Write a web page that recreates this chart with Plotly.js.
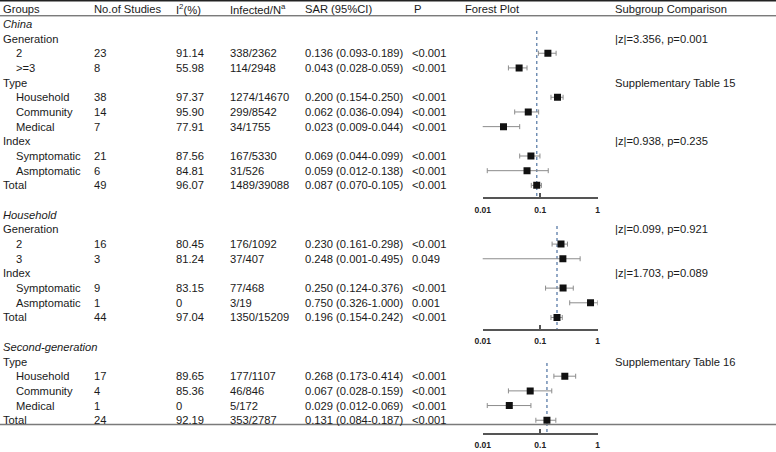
<!DOCTYPE html>
<html><head><meta charset="utf-8">
<script src="https://cdn.plot.ly/plotly-3.0.1.min.js"></script>
<style>html,body{margin:0;padding:0;background:#fff}#chart{width:776px;height:452px}</style>
</head><body><div id="chart"></div>
<script>
// ---------------- DATA ----------------
const headers = ['Groups','No.of Studies','I<sup>2</sup>(%)','Infected/N<sup>a</sup>','SAR (95%CI)','P','Forest Plot','Subgroup Comparison'];
const sectionTitles = ['China','Household','Second-generation'];
const groups = ['China','Generation','2','>=3','Type','Household','Community','Medical','Index','Symptomatic','Asmptomatic','Total','',
                'Household','Generation','2','3','Index','Symptomatic','Asmptomatic','Total','',
                'Second-generation','Type','Household','Community','Medical','Total'];
// 0 = section title, 1 = subgroup heading / total, 2 = indented item
const level = [0,1,2,2,1,2,2,2,1,2,2,1,-1, 0,1,2,2,1,2,2,1,-1, 0,1,2,2,2,1];
// which forest plot (section) each row belongs to
const sectionOf = [0,0,0,0,0,0,0,0,0,0,0,0,-1, 1,1,1,1,1,1,1,1,-1, 2,2,2,2,2,2];
const studies = [null,null,23,8,null,38,14,7,null,21,6,49,null, null,null,16,3,null,9,1,44,null, null,null,17,4,1,24];
const i2 = [null,null,91.14,55.98,null,97.37,95.90,77.91,null,87.56,84.81,96.07,null, null,null,80.45,81.24,null,83.15,0,97.04,null, null,null,89.65,85.36,0,92.19];
const infected = [null,null,338,114,null,1274,299,34,null,167,31,1489,null, null,null,176,37,null,77,3,1350,null, null,null,177,46,5,353];
const totalN = [null,null,2362,2948,null,14670,8542,1755,null,5330,526,39088,null, null,null,1092,407,null,468,19,15209,null, null,null,1107,846,172,2787];
const sar = [null,null,0.136,0.043,null,0.200,0.062,0.023,null,0.069,0.059,0.087,null, null,null,0.230,0.248,null,0.250,0.750,0.196,null, null,null,0.268,0.067,0.029,0.131];
const sarLo = [null,null,0.093,0.028,null,0.154,0.036,0.009,null,0.044,0.012,0.070,null, null,null,0.161,0.001,null,0.124,0.326,0.154,null, null,null,0.173,0.028,0.012,0.084];
const sarHi = [null,null,0.189,0.059,null,0.250,0.094,0.044,null,0.099,0.138,0.105,null, null,null,0.298,0.495,null,0.376,1.000,0.242,null, null,null,0.414,0.159,0.069,0.187];
const pval = [null,null,'<0.001','<0.001',null,'<0.001','<0.001','<0.001',null,'<0.001','<0.001','<0.001',null, null,null,'<0.001','0.049',null,'<0.001','0.001','<0.001',null, null,null,'<0.001','<0.001','<0.001','<0.001'];
const comparison = ['','|z|=3.356, p=0.001','','','Supplementary Table 15','','','','|z|=0.938, p=0.235','','','','',
                    '','|z|=0.099, p=0.921','','','|z|=1.703, p=0.089','','','','',
                    '','Supplementary Table 16','','','',''];
const tickVals = [0.01,0.1,1];
const tickLabels = ['0.01','0.1','1'];

// ---------------- LAYOUT CONSTANTS ----------------
const W = 776, H = 452;
const FONT = '"Liberation Sans", Arial, sans-serif';
const FS = 11.2;
const ROW0 = 9.2, ROWH = 14.68;          // pixel centre of row 0 and row pitch
const yRange = [(H - ROW0) / ROWH, -ROW0 / ROWH];
const colX = {groups: 2, indent: 15, studies: 93, i2: 175, infected: 229, sar: 304, p: 411, pHead: 413, forest: 464, comp: 614};
const forestDomain = [482.7 / W, 597.7 / W];
const axisPx = [198.3, 329.5, 434];      // pixel rows of the three forest axes
const dashStartPx = [31, 226, 363];
const pxToRow = p => (p - ROW0) / ROWH;

// ---------------- BUILD ----------------
const ann = [];
function txt(xpx, row, text, extra) {
  ann.push(Object.assign({
    xref: 'paper', yref: 'y', x: xpx / W, y: row, text: text, showarrow: false,
    xanchor: 'left', yanchor: 'middle', borderpad: 0,
    font: {family: FONT, size: FS, color: '#1a1a1a'}
  }, extra || {}));
}
// header row (row 0)
const headX = [colX.groups, colX.studies, colX.i2, colX.infected, colX.sar, colX.pHead, colX.forest, colX.comp];
headers.forEach((h, i) => txt(headX[i], 0, h));

groups.forEach((g, i) => {
  const row = i + 1;
  if (level[i] < 0) return;
  if (level[i] === 0) txt(colX.groups, row, '<i>' + g + '</i>');
  else if (level[i] === 1) txt(colX.groups, row, g);
  else txt(colX.indent, row, g);
  if (studies[i] !== null) txt(colX.studies, row, String(studies[i]));
  if (i2[i] !== null) txt(colX.i2, row, i2[i] === 0 ? '0' : i2[i].toFixed(2));
  if (infected[i] !== null) txt(colX.infected, row, infected[i] + '/' + totalN[i]);
  if (sar[i] !== null) txt(colX.sar, row, sar[i].toFixed(3) + ' (' + sarLo[i].toFixed(3) + '-' + sarHi[i].toFixed(3) + ')');
  if (pval[i] !== null) txt(colX.p, row, pval[i]);
  if (comparison[i]) txt(colX.comp, row, comparison[i]);
});

const traces = [];
const axNames = ['x', 'x2', 'x3'];
sectionTitles.forEach((s, k) => {
  const idx = sectionOf.map((v, i) => (v === k && sar[i] !== null) ? i : -1).filter(i => i >= 0);
  const totIdx = idx.filter(i => groups[i] === 'Total')[0];
  // reference (pooled) dashed line
  traces.push({
    type: 'scatter', mode: 'lines', xaxis: axNames[k], yaxis: 'y',
    x: [sar[totIdx], sar[totIdx]], y: [pxToRow(dashStartPx[k]), pxToRow(axisPx[k])],
    line: {color: '#6f8db3', width: 1.5, dash: '3px,3px'}, hoverinfo: 'skip', showlegend: false
  });
  traces.push({
    type: 'scatter', mode: 'markers', xaxis: axNames[k], yaxis: 'y',
    x: idx.map(i => sar[i]), y: idx.map(i => i + 1),
    marker: {symbol: 'square', size: 7, color: '#111'},
    error_x: {type: 'data', symmetric: false,
      array: idx.map(i => sarHi[i] - sar[i]), arrayminus: idx.map(i => sar[i] - sarLo[i]),
      color: '#8c8c8c', thickness: 1, width: 2.5},
    showlegend: false, cliponaxis: true
  });
});

function forestAxis(k) {
  return {
    type: 'log', range: [-2, 0], domain: forestDomain, anchor: 'free', position: 1 - axisPx[k] / H,
    tickvals: tickVals, ticktext: tickLabels.map(t => '<b>' + t + '</b>'),
    tickfont: {family: FONT, size: 8.5, color: '#222'},
    ticks: 'inside', ticklen: 4, tickwidth: 1.5, tickcolor: '#555', ticklabelstandoff: 3,
    showline: true, linecolor: '#555', linewidth: 2,
    showgrid: false, zeroline: false, fixedrange: true
  };
}

const shapes = [
  {type: 'line', xref: 'paper', yref: 'paper', x0: 0, x1: 1, y0: 1 - 0.8 / H, y1: 1 - 0.8 / H, line: {color: '#222', width: 1.6}},
  {type: 'line', xref: 'paper', yref: 'paper', x0: 0, x1: 1, y0: 1 - 15.8 / H, y1: 1 - 15.8 / H, line: {color: '#444', width: 1}},
  {type: 'line', xref: 'paper', yref: 'paper', x0: 0, x1: 1, y0: 1 - 424.6 / H, y1: 1 - 424.6 / H, line: {color: '#7a7a7a', width: 1.5}}
];

const layout = {
  width: W, height: H,
  margin: {l: 0, r: 0, t: 0, b: 0, pad: 0},
  paper_bgcolor: '#ffffff', plot_bgcolor: 'rgba(0,0,0,0)',
  showlegend: false,
  font: {family: FONT, size: FS, color: '#1a1a1a'},
  xaxis: forestAxis(0), xaxis2: forestAxis(1), xaxis3: forestAxis(2),
  yaxis: {range: yRange, domain: [0, 1], visible: false, fixedrange: true, anchor: 'x'},
  annotations: ann, shapes: shapes
};

Plotly.newPlot('chart', traces, layout, {staticPlot: true, displayModeBar: false});
</script>
</body></html>
